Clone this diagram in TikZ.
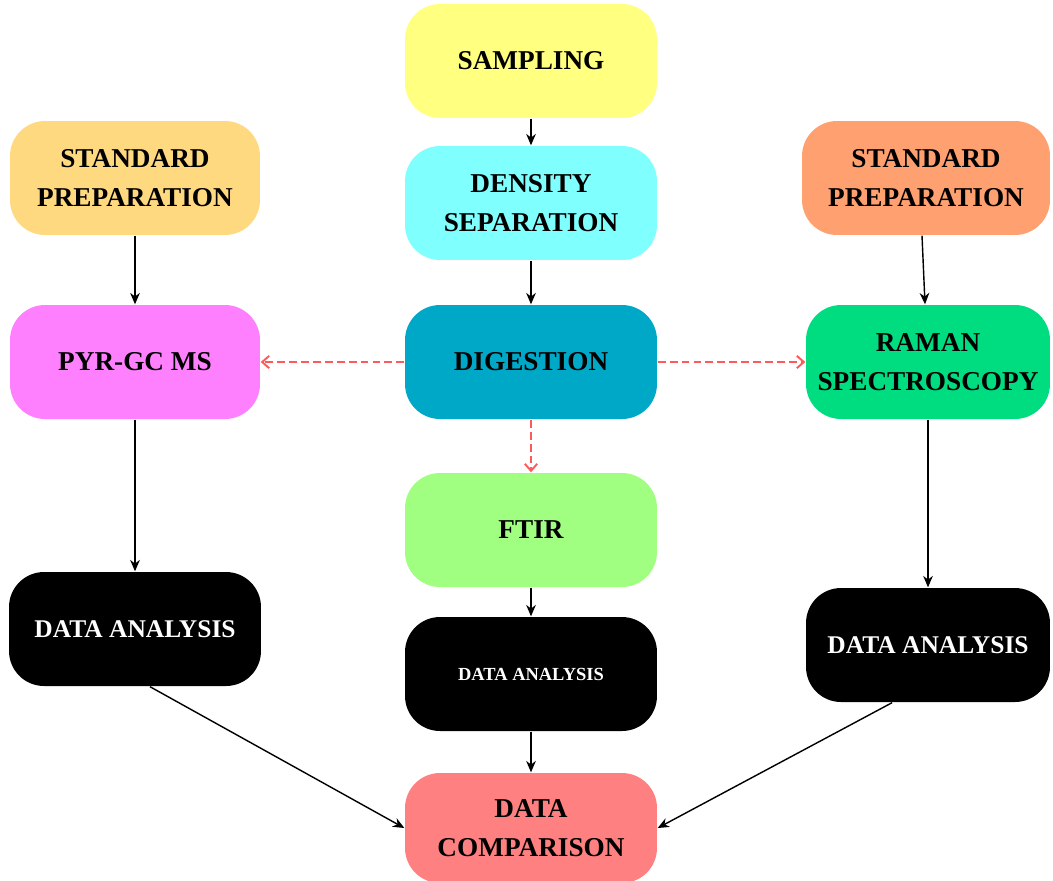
\documentclass[tikz,border=0pt]{standalone}
\usepackage{fontspec}
\setmainfont{Liberation Serif}
\usetikzlibrary{arrows.meta,positioning}

\definecolor{sampcol}{HTML}{FFFF80}
\definecolor{denscol}{HTML}{80FFFF}
\definecolor{digcol}{HTML}{00A8C8}
\definecolor{ftircol}{HTML}{A0FF80}
\definecolor{compcol}{HTML}{FF8080}
\definecolor{stdLcol}{HTML}{FFD980}
\definecolor{stdRcol}{HTML}{FFA070}
\definecolor{pyrcol}{HTML}{FF80FF}
\definecolor{ramancol}{HTML}{00DC80}
\definecolor{dashcol}{HTML}{FF5A5A}

\begin{document}
\begin{tikzpicture}[x=0.02cm, y=-0.02cm, ->, >={Stealth[length=6.5pt,width=5.5pt]}, line width=0.8pt,
  box/.style={rounded corners=0.7cm, minimum width=5.04cm, minimum height=2.28cm, align=center, inner sep=2pt,
    font=\fontsize{15.5}{22}\selectfont\bfseries},
  darkbox/.style={box, fill=black, text=white},
  dashlink/.style={dashcol, line width=1.1pt, dash pattern=on 4.5pt off 2.3pt, -{Straight Barb[length=4pt,width=7pt]}}]
\useasboundingbox (0,0) rectangle (1053,880);
\node[box, fill=sampcol] (samp) at (531,61) {SAMPLING};
\node[box, fill=denscol] (dens) at (531,203) {DENSITY\\SEPARATION};
\node[box, fill=digcol] (dig) at (531,362) {DIGESTION};
\node[box, fill=ftircol] (ftir) at (531,530) {FTIR};
\node[darkbox, font=\fontsize{10.5}{13}\selectfont\bfseries] (daM) at (531,674) {DATA ANALYSIS};
\node[box, fill=compcol, minimum height=2.2cm] (comp) at (531,828) {DATA\\COMPARISON};
\node[box, fill=stdLcol, minimum width=5cm] (stdL) at (135,178) {STANDARD\\PREPARATION};
\node[box, fill=pyrcol, minimum width=5cm] (pyr) at (135,362) {PYR-GC MS};
\node[darkbox, font=\fontsize{14.5}{18}\selectfont\bfseries] (daL) at (135,629) {DATA ANALYSIS};
\node[box, fill=stdRcol, minimum width=4.96cm] (stdR) at (926,178) {STANDARD\\PREPARATION};
\node[box, fill=ramancol, minimum width=4.88cm] (raman) at (928,362) {RAMAN\\SPECTROSCOPY};
\node[darkbox, minimum width=4.88cm, font=\fontsize{14.5}{18}\selectfont\bfseries] (daR) at (928,645) {DATA ANALYSIS};
% middle column
\path (samp) edge (dens);
\path (dens) edge (dig);
\path (ftir) edge (daM);
\path (daM) edge (comp);
% side columns
\path (stdL) edge (pyr);
\path (pyr) edge (daL);
\path (stdR.south) ++(-4,0) coordinate (stdRout);
\path (raman.north) ++(-3,0) coordinate (ramanin);
\path (stdRout) edge (ramanin);
\path (raman) edge (daR);
\path (daL.south) ++(15,0) coordinate (daLout) (daLout) edge (comp.west);
\path (daR.south) ++(-36,0) coordinate (daRout) (daRout) edge (comp.east);
% from digestion
\path (dig) edge[dashlink] (pyr);
\path (dig) edge[dashlink] (raman);
\path (dig) edge[dashlink] (ftir);
\end{tikzpicture}
\end{document}
